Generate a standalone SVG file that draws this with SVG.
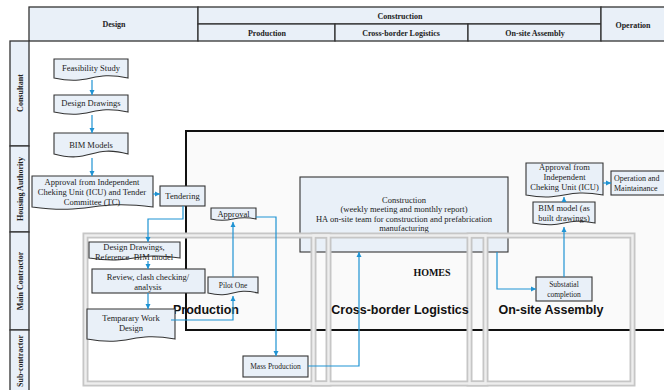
<svg xmlns="http://www.w3.org/2000/svg" width="664" height="390" viewBox="0 0 664 390">
<defs>
<marker id="ah" markerWidth="6" markerHeight="6" refX="5" refY="3" orient="auto" markerUnits="userSpaceOnUse">
<path d="M0,0.5 L5,3 L0,5.5 Z" fill="#1f93d3"/>
</marker>
<style>
.hdr{fill:#e9f0f8;stroke:#333;stroke-width:1.3}
.ht{font-family:"Liberation Serif","Times New Roman",serif;font-weight:bold;font-size:8px;fill:#222;text-anchor:middle}
.nd{fill:#e9f0f8;stroke:#333;stroke-width:1.1}
.t{font-family:"Liberation Serif","Times New Roman",serif;font-size:8.5px;fill:#222;text-anchor:middle}
.ts{font-family:"Liberation Serif","Times New Roman",serif;font-size:7.5px;fill:#222;text-anchor:middle}
.tl{font-family:"Liberation Serif","Times New Roman",serif;font-size:8px;fill:#222;text-anchor:start}
.big{font-family:"Liberation Sans",Arial,sans-serif;font-weight:bold;font-size:12.5px;fill:#111;text-anchor:middle}
.c{fill:none;stroke:#1f93d3;stroke-width:1.2;marker-end:url(#ah)}
.fo{fill:none;stroke:#c6c6c6;stroke-width:6}
.fi{fill:none;stroke:#eeeeee;stroke-width:2.4}
</style>
</defs>
<rect x="0" y="0" width="664" height="390" fill="#fff"/>

<g id="header">
<rect class="hdr" x="29" y="7" width="169" height="34"/>
<rect class="hdr" x="198" y="7" width="403" height="17"/>
<rect class="hdr" x="198" y="24" width="137" height="17"/>
<rect class="hdr" x="335" y="24" width="133" height="17"/>
<rect class="hdr" x="468" y="24" width="133" height="17"/>
<rect class="hdr" x="601" y="7" width="70" height="34"/>
<text class="ht" x="114" y="27">Design</text>
<text class="ht" x="400" y="19">Construction</text>
<text class="ht" x="267" y="36">Production</text>
<text class="ht" x="401" y="36">Cross-border Logistics</text>
<text class="ht" x="535" y="36">On-site Assembly</text>
<text class="ht" x="633" y="28">Operation</text>
</g>

<g id="lanes">
<rect class="hdr" x="10" y="41" width="19" height="105"/>
<rect class="hdr" x="10" y="146" width="19" height="86"/>
<rect class="hdr" x="10" y="232" width="19" height="98"/>
<rect class="hdr" x="10" y="330" width="19" height="70"/>
<text class="ht" transform="translate(22.5,93) rotate(-90)">Consultant</text>
<text class="ht" transform="translate(22.5,189) rotate(-90)">Housing Authority</text>
<text class="ht" transform="translate(22.5,281) rotate(-90)">Main Contractor</text>
<text class="ht" transform="translate(22.5,361) rotate(-90)">Sub-contractor</text>
</g>

<g id="homes">
<rect x="186" y="131" width="490" height="199" fill="#fafafa" stroke="#111" stroke-width="2"/>
<text x="432" y="276" font-family="'Liberation Serif','Times New Roman',serif" font-weight="bold" font-size="10" fill="#111" text-anchor="middle">HOMES</text>
</g>

<g id="construction">
<rect class="nd" x="300" y="177" width="208" height="75"/>
<text class="t" font-size="8" x="404" y="203">Construction</text>
<text class="t" font-size="8" x="404" y="212">(weekly meeting and monthly report)</text>
<text class="t" font-size="8" x="404" y="222">HA on-site team for construction and prefabrication</text>
<text class="t" font-size="8" x="404" y="231">manufacturing</text>
</g>

<g id="frames">
<rect class="fo" x="85.5" y="235.5" width="243" height="148"/>
<rect class="fo" x="313.5" y="235.5" width="172" height="148"/>
<rect class="fo" x="469.5" y="235.5" width="163" height="148"/>
<rect class="fi" x="85.5" y="235.5" width="243" height="148"/>
<rect class="fi" x="313.5" y="235.5" width="172" height="148"/>
<rect class="fi" x="469.5" y="235.5" width="163" height="148"/>
<text class="big" x="206" y="314">Production</text>
<text class="big" x="400" y="314">Cross-border Logistics</text>
<text class="big" x="551" y="314">On-site Assembly</text>
</g>

<g id="feasibility">
<path class="nd" d="M54,59 H128 V78 C91,70 91,86 54,78 Z"/>
<text class="t" x="91" y="71">Feasibility Study</text>
</g>
<g id="design-drawings">
<path class="nd" d="M54,95 H128 V112 C91,104 91,120 54,112 Z"/>
<text class="t" x="91" y="106">Design Drawings</text>
</g>
<g id="bim-models">
<path class="nd" d="M54,133 H128 V154 C91,144 91,164 54,154 Z"/>
<text class="t" x="91" y="148">BIM Models</text>
</g>
<g id="approval-icu-tc">
<path class="nd" d="M32,176 H153 V207 C92,199 92,215 32,207 Z"/>
<text class="t" x="92" y="185">Approval from Independent</text>
<text class="t" x="92" y="195">Cheking Unit (ICU) and Tender</text>
<text class="t" x="92" y="205">Committee (TC)</text>
</g>
<g id="tendering">
<rect class="nd" x="160" y="186" width="45" height="20"/>
<text class="t" x="182.5" y="199">Tendering</text>
</g>
<g id="dd-reference">
<path class="nd" d="M89,242 H180 V258 C134,251 134,265 89,258 Z"/>
<text class="t" x="134" y="250">Design Drawings,</text>
<text class="t" x="134" y="260" xml:space="preserve">Reference  BIM model</text>
</g>
<g id="review">
<rect class="nd" x="92" y="269" width="113" height="24"/>
<text class="t" x="148" y="280">Review, clash checking/</text>
<text class="t" x="148" y="290">analysis</text>
</g>
<g id="temporary-work">
<path class="nd" d="M87,309 H175 V339 C131,331 131,347 87,339 Z"/>
<text class="t" x="131" y="321">Temparary Work</text>
<text class="t" x="131" y="331">Design</text>
</g>
<g id="pilot-one">
<path class="nd" d="M208,277 H258 V293 C233,287 233,299 208,293 Z"/>
<text class="ts" font-size="8" x="233" y="288">Pilot One</text>
</g>
<g id="approval">
<path class="nd" d="M211,208 H256 V219 C233,214 233,224 211,219 Z"/>
<text class="t" x="233.5" y="217">Approval</text>
</g>
<g id="mass-production">
<rect class="nd" x="243" y="356" width="65" height="21"/>
<text class="ts" x="275.5" y="369">Mass Production</text>
</g>
<g id="substantial">
<rect class="nd" x="536" y="277" width="56" height="24"/>
<text class="ts" font-size="7" x="564" y="287">Substatial</text>
<text class="ts" font-size="7" x="564" y="297">completion</text>
</g>
<g id="bim-as-built">
<path class="nd" d="M533,202 H595 V223 C564,217 564,229 533,223 Z"/>
<text class="t" x="564" y="211">BIM model (as</text>
<text class="t" x="564" y="221">built drawings)</text>
</g>
<g id="approval-icu">
<path class="nd" d="M526,163 H603 V195 C564,188 564,202 526,195 Z"/>
<text class="t" font-size="7.8" x="564.5" y="170">Approval from</text>
<text class="t" font-size="7.8" x="564.5" y="180">Independent</text>
<text class="t" font-size="7.8" x="564.5" y="190">Cheking Unit (ICU)</text>
</g>
<g id="operation-maintenance">
<rect class="nd" x="611" y="171" width="70" height="24"/>
<text class="tl" x="614" y="181">Operation and</text>
<text class="tl" x="614" y="191">Maintainance</text>
</g>

<g id="connectors">
<path class="c" d="M92,80 V95"/>
<path class="c" d="M92,115 V133"/>
<path class="c" d="M92,158 V176"/>
<path class="c" d="M153,194 H160"/>
<path class="c" d="M183,206 V219 H148 V242"/>
<path class="c" d="M148,261 V269"/>
<path class="c" d="M148,293 V309"/>
<path class="c" d="M171,320 H233 V296"/>
<path class="c" d="M233,277 V222"/>
<path class="c" d="M256,217 H276 V356"/>
<path class="c" d="M308,366 H359 V252"/>
<path class="c" d="M497,252 V289 H536"/>
<path class="c" d="M564,277 V227"/>
<path class="c" d="M564,202 V197"/>
<path class="c" d="M603,183 H611"/>
</g>
</svg>
